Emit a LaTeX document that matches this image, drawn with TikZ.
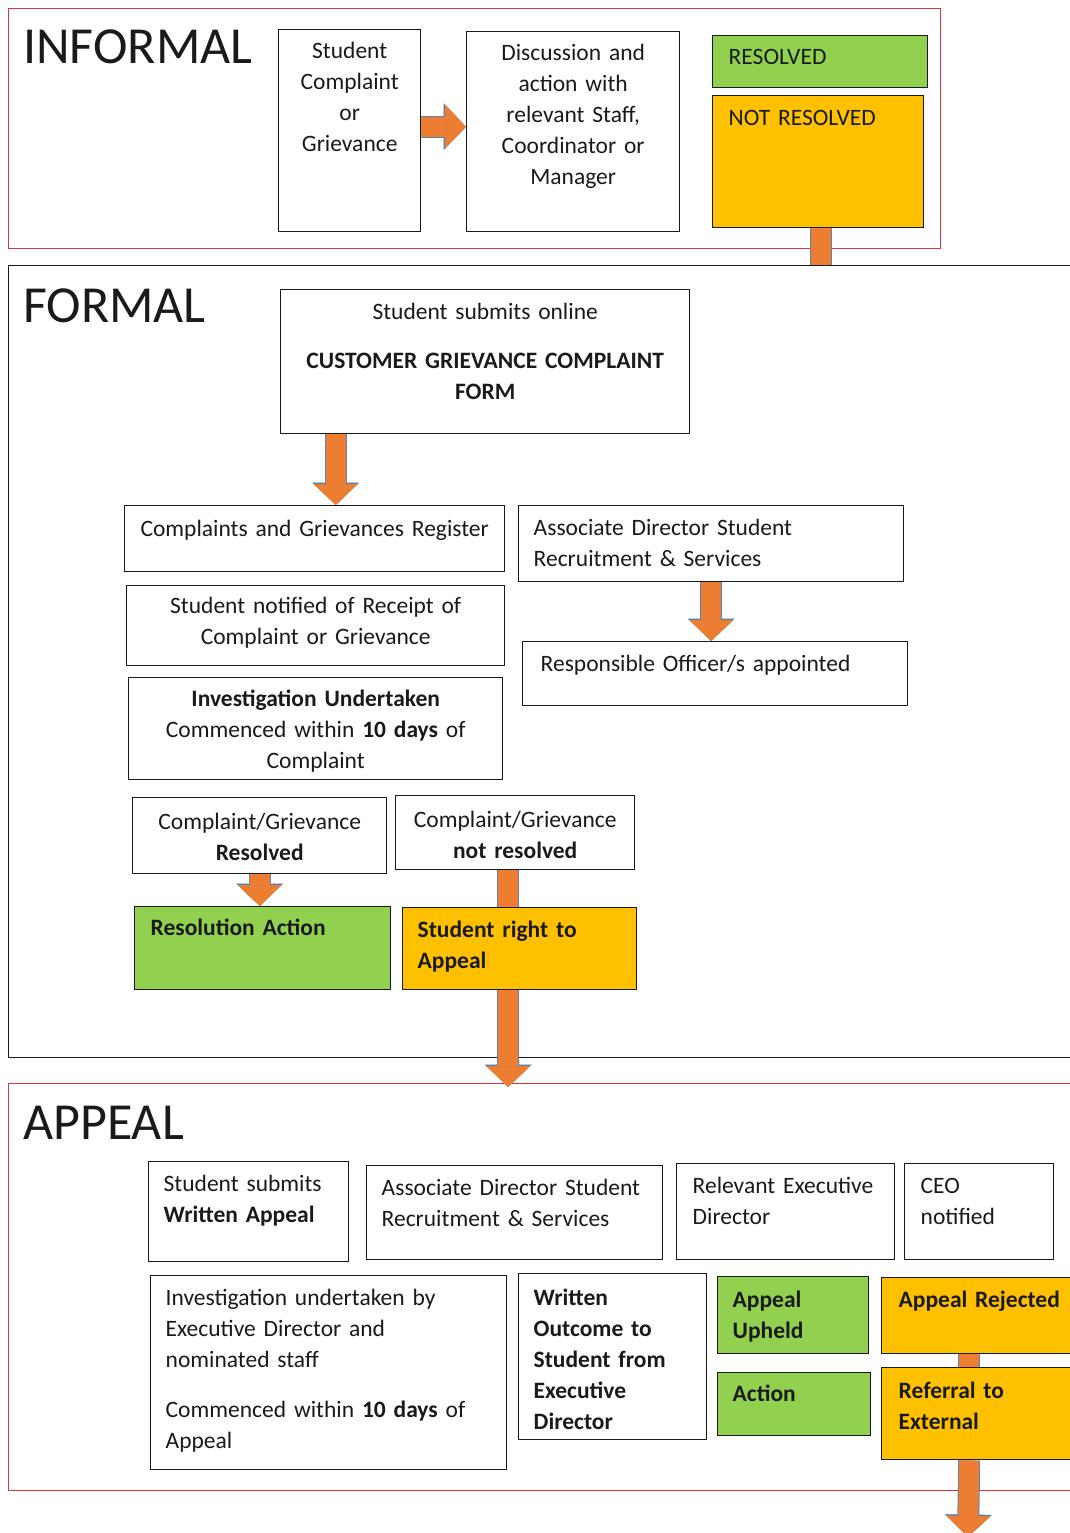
\documentclass[tikz,border=0pt]{standalone}
\usepackage{fontspec}
\setmainfont{Carlito}
\usetikzlibrary{arrows.meta}
\definecolor{okgreen}{HTML}{92D050}
\definecolor{amber}{HTML}{FFC000}
\definecolor{flow}{HTML}{ED7D31}
\definecolor{flowedge}{HTML}{5B84B1}
\definecolor{framered}{RGB}{218,52,60}
\definecolor{ink}{HTML}{1A1A1A}
\pgfdeclarelayer{back}
\pgfdeclarelayer{mid}
\pgfsetlayers{back,mid,main}

\tikzset{
	stage/.style={draw=#1, line width=1.4pt, anchor=north west, inner sep=0pt},
	heading/.style={anchor=base west, inner sep=0pt, text=ink, font=\fontsize{52}{62}\selectfont},
	box/.style={draw=ink, line width=1.4pt, fill=white, anchor=north west, inner ysep=0pt, inner xsep=15pt,
		align=left, text=ink, font=\fontsize{23.5}{31}\selectfont},
	strong/.style={font=\fontsize{23.5}{31}\selectfont\bfseries},
	sz/.style n args={3}{text width=#1pt, text height=#2pt, text depth=#3pt},
	flowarrow/.style={draw=flow, line width=20pt, -{Triangle[width=44pt,length=21pt,line width=0.5pt]},
		preaction={draw=flowedge, line width=22pt, -{Triangle[width=47pt,length=22.5pt,line width=0.5pt]}}},
	flowbar/.style={draw=flow, line width=20pt, preaction={draw=flowedge, line width=22pt}}
}

\begin{document}
\begin{tikzpicture}[x=1pt, y=-1pt]
	\useasboundingbox (0,0) rectangle (1070,1533);
	
	% stages
	\begin{pgfonlayer}{back}
		\node[stage=framered, minimum width=932pt, minimum height=240pt] (informal) at (8,8) {};
		\node[stage=ink, minimum width=1080pt, minimum height=792pt] (formal) at (8,265) {};
		\node[stage=framered, minimum width=1080pt, minimum height=407pt] (appeal) at (8,1083) {};
	\end{pgfonlayer}
	\node[heading] (informal-h) at (23,64) {INFORMAL};
	\node[heading] (formal-h) at (23,322) {FORMAL};
	\node[heading] (appeal-h) at (23,1139) {APPEAL};
	
	% informal
	\node[box, align=center, inner xsep=4pt, sz={134}{29}{173}] (complaint) at (278,29) {Student\\Complaint\\or\\Grievance};
	\node[box, align=center, inner xsep=4pt, sz={205}{29}{171}] (discuss) at (466,31) {Discussion and\\action with\\relevant Staff,\\Coordinator or\\Manager};
	\node[box, fill=okgreen, inner xsep=16pt, sz={183}{29}{23}] (resolved) at (712,35) {RESOLVED};
	\node[box, fill=amber, inner xsep=16pt, sz={179}{30}{102}] (notres) at (712,95) {NOT RESOLVED};
	
	% formal
	\node[box, align=center, inner xsep=4pt, sz={401}{30}{114}] (form) at (280,289) {Student submits online\\[18pt]\textbf{CUSTOMER GRIEVANCE COMPLAINT}\\\textbf{FORM}};
	\node[box, align=center, inner xsep=4pt, sz={372}{31}{35}] (register) at (124,505) {Complaints and Grievances Register};
	\node[box, sz={355}{30}{46}] (adsr) at (518,505) {Associate Director Student\\Recruitment \& Services};
	\node[box, inner xsep=18pt, sz={349}{30}{34}] (officer) at (522,641) {Responsible Officer/s appointed};
	\node[box, align=center, inner xsep=4pt, sz={370}{28}{52}] (notified) at (126,585) {Student notified of Receipt of\\Complaint or Grievance};
	\node[box, align=center, inner xsep=4pt, sz={366}{29}{73}] (investigate) at (128,677) {\textbf{Investigation Undertaken}\\Commenced within \textbf{10 days} of\\Complaint};
	\node[box, align=center, inner xsep=4pt, sz={246}{32}{44}] (resolvedc) at (132,797) {Complaint/Grievance\\\textbf{Resolved}};
	\node[box, align=center, inner xsep=4pt, sz={231}{32}{42}] (notresc) at (395,795) {Complaint/Grievance\\\textbf{not resolved}};
	\node[box, strong, fill=okgreen, inner xsep=16pt, sz={224}{29}{54}] (resaction) at (134,906) {Resolution Action};
	\node[box, strong, fill=amber, sz={204}{30}{52}] (rightappeal) at (402,907) {Student right to\\Appeal};
	
	% appeal
	\node[box, sz={170}{30}{70}] (written) at (148,1161) {Student submits\\\textbf{Written Appeal}};
	\node[box, sz={266}{30}{64}] (adsr2) at (366,1165) {Associate Director Student\\Recruitment \& Services};
	\node[box, inner xsep=16pt, sz={186}{30}{66}] (exdir) at (676,1163) {Relevant Executive\\Director};
	\node[box, inner xsep=16pt, sz={117}{30}{66}] (ceo) at (904,1163) {CEO\\notified};
	\node[box, sz={326}{30}{164}] (investigate2) at (150,1275) {Investigation undertaken by\\Executive Director and\\nominated staff\\[19pt]Commenced within \textbf{10 days} of\\Appeal};
	\node[box, strong, sz={158}{32}{134}] (outcome) at (518,1273) {Written\\Outcome to\\Student from\\Executive\\Director};
	\node[box, strong, fill=okgreen, sz={121}{31}{46}] (upheld) at (717,1276) {Appeal\\Upheld};
	\node[box, strong, fill=okgreen, sz={123}{29}{34}] (action) at (717,1372) {Action};
	\node[box, strong, fill=amber, inner xsep=17pt, sz={175}{30}{46}] (rejected) at (881,1277) {Appeal Rejected};
	\node[box, strong, fill=amber, inner xsep=17pt, sz={175}{31}{61}] (referral) at (881,1367) {Referral to\\External};
	\coordinate (exit) at (968,1537);
	
	% flow arrows, under the boxes
	\begin{pgfonlayer}{mid}
		\draw[flowarrow] ([yshift=4pt]complaint.east) -- ([yshift=4pt]complaint.east -| discuss.west);
		\draw[flowbar] ([xshift=3pt]notres.south) -- ([xshift=3pt]notres.south |- formal.north);
		\draw[flowarrow] ([xshift=21pt]register.north |- form.south) -- ([xshift=21pt]register.north);
		\draw[flowarrow] (adsr.south) -- (adsr.south |- officer.north);
		\draw[flowarrow] (resolvedc.south) -- (resolvedc.south |- resaction.north);
		\draw[flowarrow] ([xshift=-7pt]notresc.south) -- ([xshift=-7pt,yshift=-4pt]notresc.south |- appeal.north);
		\draw[flowbar] ([xshift=-17pt]rejected.south) -- ([xshift=-17pt]rejected.south |- referral.north);
		\draw[flowarrow] ([xshift=-17pt]referral.south) -- (exit);
	\end{pgfonlayer}
	
\end{tikzpicture}
\end{document}
